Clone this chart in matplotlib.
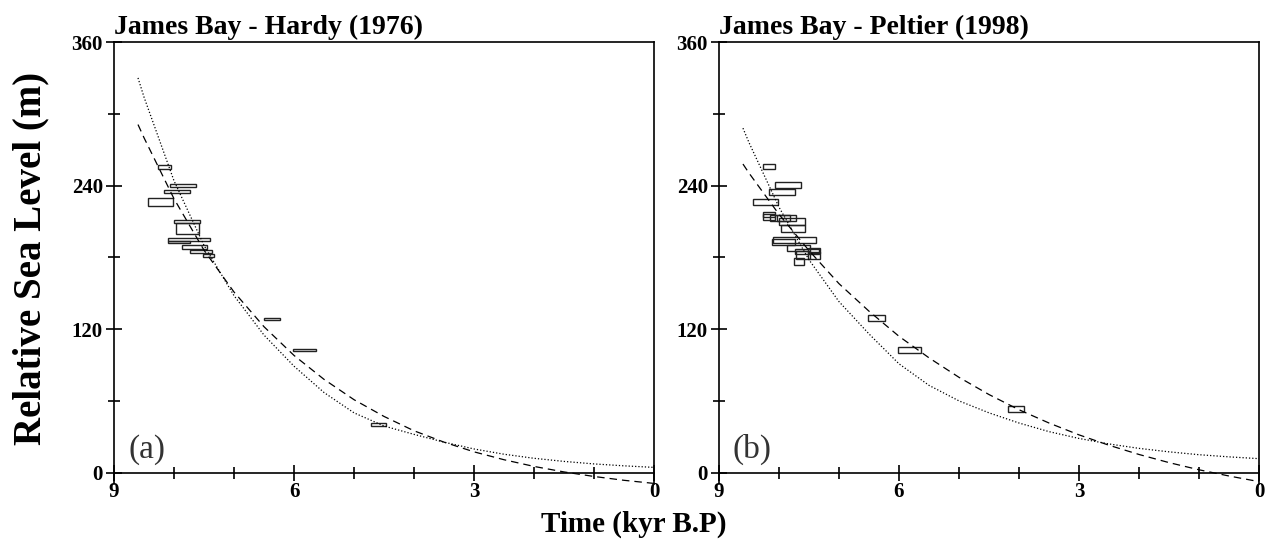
import numpy as np
import matplotlib
matplotlib.use('Agg')
import matplotlib.pyplot as plt
from matplotlib.patches import Rectangle
from matplotlib.ticker import MultipleLocator

plt.rcParams['font.family'] = ['Liberation Serif', 'DejaVu Serif']
plt.rcParams['font.weight'] = 'bold'

# model curves (time in kyr B.P, RSL in m)
curve_t = [8.6, 8.5, 8.0, 7.5, 7.0, 6.5, 6.0, 5.5, 5.0, 4.5, 4.0, 3.5, 3.0, 2.5, 2.0, 1.5, 1.0, 0.5, 0.0]

hardy_dotted = [330, 314, 244, 190, 148, 115, 89, 67, 50, 39, 32, 25.5, 19.8, 15.4, 12, 9.4, 7.3, 5.7, 4.4]
hardy_dashed = [291, 280, 229, 186, 151, 122, 98, 78, 61, 47, 35, 25.5, 17.4, 10.8, 5.2, 0.6, -3.2, -6.4, -9]

peltier_dotted = [288, 276, 222, 178, 143, 116, 91, 73, 60, 50, 41.5, 34.3, 28.6, 24, 20.3, 17.4, 15, 13.2, 11.7]
peltier_dashed = [258, 250.5, 216, 185.7, 158, 135, 114, 96, 79.7, 65.3, 52.6, 41.5, 31.6, 22.9, 15.2, 8.4, 2.4, -2.8, -7.5]

# sea-level index boxes: older age, younger age, lower RSL, upper RSL
hardy_t_old = [8.27, 8.07, 8.17, 8.44, 8.00, 7.96, 8.10, 8.10, 7.87, 7.74, 7.51, 6.50, 6.01, 4.72]
hardy_t_young = [8.05, 7.63, 7.73, 8.01, 7.57, 7.58, 7.40, 7.74, 7.45, 7.36, 7.33, 6.23, 5.64, 4.47]
hardy_v_low = [254, 239, 233.6, 223.3, 209, 199.7, 193.6, 191.7, 187, 184, 180.3, 127.7, 101.4, 39.2]
hardy_v_high = [257.5, 241.5, 236, 229.4, 211, 209, 195.8, 193.6, 190, 186, 182.5, 129.7, 103.3, 41.4]

peltier_t_old = [8.26, 8.07, 8.16, 8.44, 8.26, 8.26, 8.15, 8.04, 8.00, 7.96, 8.10, 8.11, 7.87, 7.73,
                 7.51, 7.51, 7.72, 7.75, 6.51, 6.01, 4.19]
peltier_t_young = [8.06, 7.64, 7.74, 8.02, 8.06, 8.06, 7.82, 7.72, 7.57, 7.57, 7.39, 7.74, 7.48, 7.33,
                   7.32, 7.32, 7.48, 7.58, 6.23, 5.64, 3.92]
peltier_v_low = [253.6, 237.8, 232.2, 224, 213.9, 211, 210, 210.6, 207.3, 201, 192.3, 190, 185.6, 182.5,
                 183.3, 178.9, 179, 174, 126.4, 99.7, 50.8]
peltier_v_high = [258.3, 242.8, 237.2, 229, 218.3, 216, 215, 215.6, 212.8, 207.3, 197.3, 195.6, 190.6, 187.3,
                  187.8, 184.4, 185, 179.4, 131.7, 105.3, 56]

panels = [
    ('James Bay - Hardy (1976)', '(a)', hardy_dotted, hardy_dashed,
     hardy_t_old, hardy_t_young, hardy_v_low, hardy_v_high, 0.0899),
    ('James Bay - Peltier (1998)', '(b)', peltier_dotted, peltier_dashed,
     peltier_t_old, peltier_t_young, peltier_v_low, peltier_v_high, 0.5670),
]

fig = plt.figure(figsize=(12.68, 5.55), dpi=100)

for title, tag, dotted, dashed, t_old, t_young, v_low, v_high, left in panels:
    ax = fig.add_axes([left, 0.1279, 0.4259, 0.7964])

    ax.plot(curve_t, dotted, color='black', lw=0.9, linestyle=(0, (1, 1.6)))
    ax.plot(curve_t, dashed, color='black', lw=0.9, linestyle=(0, (6, 4)))

    for t0, t1, v0, v1 in zip(t_old, t_young, v_low, v_high):
        ax.add_patch(Rectangle((t1, v0), t0 - t1, v1 - v0, fill=False,
                               edgecolor='#222222', lw=1.0))

    ax.set_xlim(9, 0)
    ax.set_ylim(-9.5, 360)

    ax.spines['bottom'].set_position(('data', 0))
    for s in ax.spines.values():
        s.set_linewidth(1.2)

    ax.xaxis.set_major_locator(MultipleLocator(3))
    ax.xaxis.set_minor_locator(MultipleLocator(1))
    ax.yaxis.set_major_locator(MultipleLocator(120))
    ax.yaxis.set_minor_locator(MultipleLocator(60))
    ax.tick_params(which='major', direction='inout', length=12, width=1.2,
                   labelsize=15, top=False, right=False)
    ax.tick_params(which='minor', direction='inout', length=8, width=1.2,
                   top=False, right=False)
    ax.tick_params(axis='x', pad=1)
    ax.tick_params(axis='y', pad=2)
    for lab in ax.get_xticklabels() + ax.get_yticklabels():
        lab.set_fontweight('bold')

    ax.set_title(title, loc='left', fontsize=20, fontweight='bold', pad=6)
    ax.text(0.026, 0.06, tag, transform=ax.transAxes, fontsize=24,
            fontweight='normal', color='#333333', va='baseline')

fig.text(0.024, 0.535, 'Relative Sea Level (m)', rotation=90, ha='center', va='center',
         fontsize=28, fontweight='bold')
fig.text(0.5, 0.055, 'Time (kyr B.P)', ha='center', va='center',
         fontsize=21, fontweight='bold')

fig.savefig('out.png', dpi=100)
